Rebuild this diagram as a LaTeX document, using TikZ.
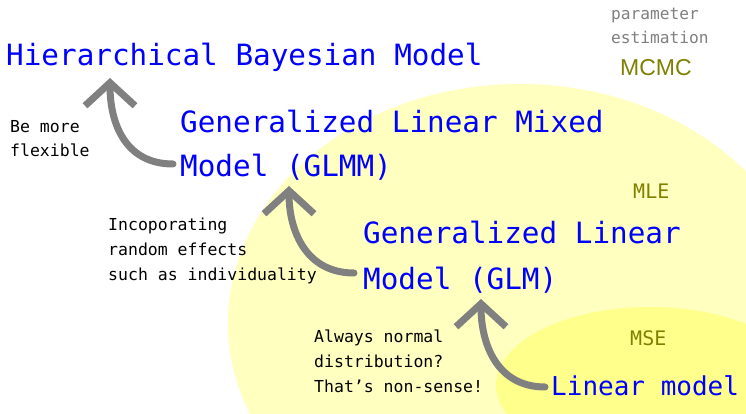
\documentclass[tikz,border=0pt]{standalone}
\usepackage{fontspec}
\setmainfont{DejaVu Sans}
\newfontfamily\monof{DejaVu Sans Mono}
\newfontfamily\arialf{Liberation Sans}
\usetikzlibrary{arrows.meta,calc}
\definecolor{bluet}{RGB}{0,0,255}
\definecolor{olivet}{RGB}{128,128,0}
\definecolor{grayt}{RGB}{128,128,128}
\definecolor{arrowgray}{RGB}{128,128,128}
\definecolor{paleyel}{RGB}{255,255,192}
\definecolor{deepyel}{RGB}{255,255,140}
\begin{document}
\begin{tikzpicture}[x=1pt,y=-1pt,
  lbl/.style={inner sep=0pt, anchor=base west},
  model/.style={lbl, text=bluet, font=\monof\fontsize{29.3}{29}\selectfont},
  lmodel/.style={lbl, text=bluet, font=\monof\fontsize{26}{26}\selectfont},
  note/.style={lbl, text=black, font=\monof\fontsize{16.5}{16}\selectfont},
  param/.style={lbl, text=grayt, font=\monof\fontsize{16.2}{16}\selectfont},
  meth/.style={lbl, text=olivet, font=\monof\fontsize{20}{20}\selectfont},
  growarrow/.style={draw=arrowgray, line width=7pt, line cap=round,
    -{Straight Barb[length=23pt,width=50pt]}}]
\useasboundingbox (0,0) rectangle (746,414);
\fill[white] (0,0) rectangle (746,414);
% estimation regions
\fill[paleyel] (520,323) ellipse [x radius=292pt, y radius=239pt];
\fill[deepyel] (650,385) ellipse [x radius=154pt, y radius=78pt];
% models
\node[model] (hbm) at (6,66) {Hierarchical Bayesian Model};
\node[model] (glmm1) at (180,133) {Generalized Linear Mixed};
\node[model] (glmm2) at (180,177) {Model (GLMM)};
\node[model] (glm1) at (363,243) {Generalized Linear};
\node[model] (glm2) at (363,289) {Model (GLM)};
\node[lmodel] (lm) at (551,395) {Linear model};
% notes
\node[note] (n1a) at (10,133) {Be more};
\node[note] (n1b) at (10,157) {flexible};
\node[note] (n2a) at (108,230) {Incoporating};
\node[note] (n2b) at (108,255) {random effects};
\node[note] (n2c) at (108,280) {such as individuality};
\node[note] (n3a) at (314,342) {Always normal};
\node[note] (n3b) at (314,367) {distribution?};
\node[note] (n3c) at (314,392) {That’s non-sense!};
% estimation methods
\node[param] (pa) at (611,20) {parameter};
\node[param] (pb) at (611,44) {estimation};
\node[lbl, text=olivet, font=\arialf\fontsize{23}{23}\selectfont] (mcmc) at (620,76) {MCMC};
\node[meth] (mle) at (633,198) {MLE};
\node[meth] (mse) at (630,345) {MSE};
% arrows
\draw[growarrow] ($(glmm2.base west)+(-7,-13)$) .. controls +(-48,0) and +(0,45) .. ($(hbm.base west)+(104,12)$);
\draw[growarrow] ($(glm2.base west)+(-9,-16)$) .. controls +(-48,0) and +(0,45) .. ($(glmm2.base west)+(109,9)$);
\draw[growarrow] ($(lm.base west)+(-6,-8)$) .. controls +(-48,0) and +(0,45) .. ($(glm2.base west)+(118,10)$);
\end{tikzpicture}
\end{document}
